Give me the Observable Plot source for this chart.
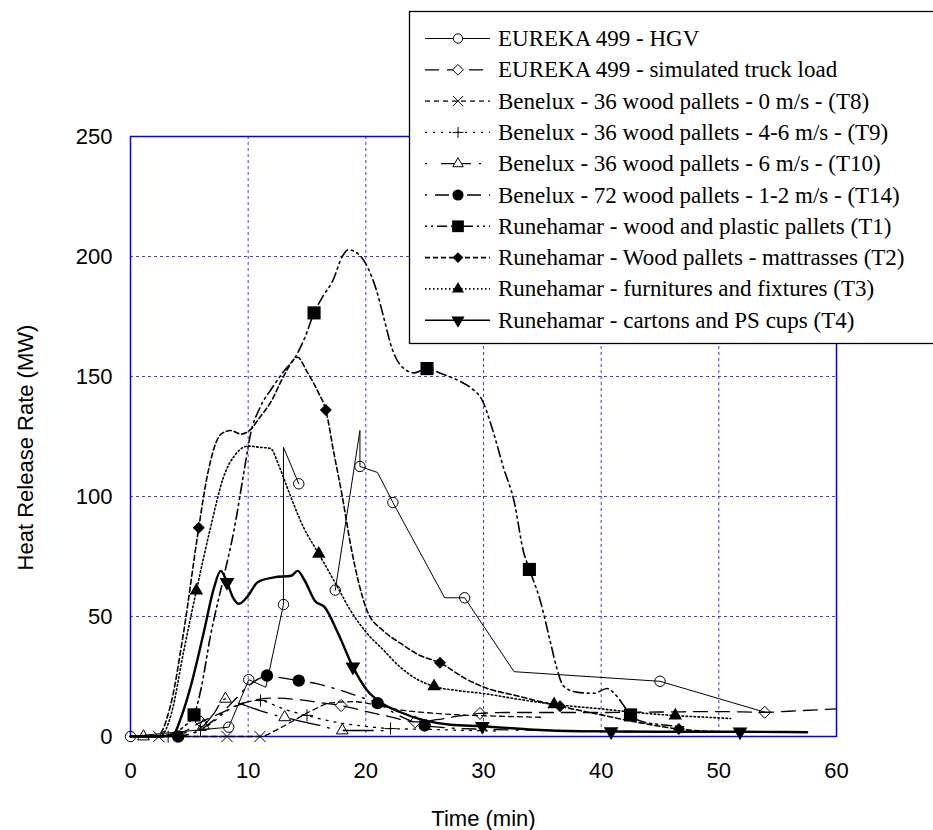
<!DOCTYPE html>
<html><head><meta charset="utf-8">
<script src="https://cdn.jsdelivr.net/npm/d3@7"></script>
<script src="https://cdn.jsdelivr.net/npm/@observablehq/plot@0.6"></script>
<style>body{margin:0;background:#fff;} #chart svg{display:block;}</style>
</head><body><div id="chart"></div>
<script>
// ---------- axis ticks & labels ----------
const xTicks = [0, 10, 20, 30, 40, 50, 60];
const yTicks = [0, 50, 100, 150, 200, 250];
const xTitle = "Time (min)";
const yTitle = "Heat Release Rate (MW)";
const legendLabels = [
  "EUREKA 499 - HGV",
  "EUREKA 499 - simulated truck load",
  "Benelux - 36 wood pallets - 0 m/s - (T8)",
  "Benelux - 36 wood pallets - 4-6 m/s - (T9)",
  "Benelux - 36 wood pallets - 6 m/s - (T10)",
  "Benelux - 72 wood pallets - 1-2 m/s - (T14)",
  "Runehamar - wood and plastic pallets (T1)",
  "Runehamar - Wood pallets - mattrasses (T2)",
  "Runehamar - furnitures and fixtures (T3)",
  "Runehamar - cartons and PS cups (T4)"
];

// ---------- series data: [time (min), HRR (MW)] ----------
const hgvSegA = [[0,0],[8.35,3.9],[10.05,23.7],[11.5,20.5],[13,55],[13,120.5],[14.3,105.3]];
const hgvSegB = [[17.4,61],[19.5,127.5],[19.5,112.5],[21,110],[22.3,97.5],[26.7,57.8],[28.4,57.8],[32.6,27],[45,23],[54,10]];
const hgvMarks = [[0,0],[8.35,3.9],[10.05,23.7],[13,55],[14.3,105.3],[17.4,61],[19.5,112.5],[22.3,97.5],[28.4,57.8],[45,23]];

const simLine = [[2,0],[4,1],[6,6],[8,10.5],[10,14.5],[12,16],[14,15.5],[16,14.2],[17.9,12.9],[20,10.5],[22,8.3],[24.2,6.1],[26,7],[28,8.6],[29.7,9.6],[32,10],[36,10],[40,10],[45,10.2],[50,10.4],[53.9,10.1],[57,10.8],[60,11.5]];
const simMarks = [[6,6],[17.9,12.9],[24.2,6.1],[29.7,9.6],[53.9,10.1]];

const t8Line = [[0,0],[2.4,0],[5,0],[8.2,0],[11,0],[12.5,3],[14,7],[15.5,11],[17,14],[19,14.5],[21,13],[23,11],[25,10],[28,9],[31,8.5],[35,8]];
const t8Marks = [[2.4,0],[8.2,0],[11,0]];

const t9Line = [[0,0],[3.2,0],[5,1],[5.95,2.5],[7,6],[8,10],[9,13],[10,14.5],[11.05,15],[12,13.5],[13,11.5],[14,10],[15,8.8],[16,7.5],[18,5.5],[20,4.2],[22.1,3.3],[25,3],[28,2.6],[31,2.3]];
const t9Marks = [[3.2,0],[5.95,2.5],[11.05,15],[15,8.8],[22.1,3.3]];

const t10Line = [[0,0],[1.1,0],[3,0.5],[5,2],[6.2,4.5],[7,9],[8.07,15.7],[9,14.2],[10,12.5],[11,10.8],[12,9.3],[13.1,8],[14.5,6.3],[16.1,4.6],[18,2.5],[20,2.5],[22.5,2.4]];
const t10Marks = [[1.1,0],[6.2,4.5],[8.07,15.7],[13.1,8],[18,2.5]];

const t14Line = [[0,0],[4.05,0],[5,1],[6,3],[7,6.5],[8,11],[9,16],[10,21],[11,24.3],[11.6,25.4],[13,24.3],[14.3,23.3],[16,21.8],[18,19],[19.5,16.5],[21,13.9],[22,11],[23,8.3],[24,6.2],[25,4.6],[27,3.6],[30,3],[35,2.6],[40,2.2],[46,2]];
const t14Marks = [[4.05,0],[11.6,25.4],[14.3,23.3],[21,13.9],[25,4.6]];

const r1Line = [[0,0],[2.5,0],[3.5,1],[4.5,4],[5.4,9],[6,20],[6.8,42],[7.9,66],[8.8,86],[9.7,112],[10.2,126],[11,137],[12,145],[13,152],[14,158],[14.8,166],[15.6,176.5],[16.3,183],[17.2,190],[18,200],[18.5,202.8],[19.5,200.4],[20.2,195],[20.9,186],[21.5,175],[22.2,162],[22.9,155],[24.1,151.5],[25.2,153.3],[26.5,151],[28,148],[29,145],[29.9,140],[30.7,129],[31.7,112],[32.6,98],[33.4,77],[33.9,69.6],[34.8,57],[35.7,39],[36.2,29],[36.8,21],[37.9,18.5],[39.4,18],[40.5,20],[41.2,17.5],[41.9,13],[42.5,9],[43.6,6],[45,5],[47,4]];
const r1Marks = [[5.4,9],[15.6,176.5],[25.2,153.3],[33.9,69.6],[42.5,9]];

const r2Line = [[0,0],[2.2,0],[3.5,15],[4.5,43],[5.8,87],[6.5,108],[7.7,126],[8.5,127.5],[9.4,126],[10.1,127.5],[11,133],[12,140],[13,150],[14.2,158],[15,152],[16,143],[16.6,136],[17.25,119],[18,100],[18.7,80],[19.4,64],[20.1,52.5],[21.5,44],[22.9,39],[24.5,34],[26.3,30.7],[28.5,24],[30,20.6],[32.8,17],[36.5,12.6],[40,9],[43,6],[46.6,3.1],[50,2]];
const r2Marks = [[5.8,87],[16.6,136],[26.3,30.7],[36.5,12.6],[46.6,3.1]];

const r3Line = [[0,0],[2.5,0],[3.5,10],[4.5,35],[5.6,60.8],[6.8,87],[7.9,108],[9,118],[10,121],[11,120.5],[11.9,120],[12.6,113],[13.3,104],[14.7,87.2],[16,76.1],[17.6,62.2],[18.7,52.5],[20.1,43],[21.5,36],[22.9,29],[24.3,24],[25.8,20.9],[28,19],[30,17.9],[33,15.5],[36,13.4],[40,11.5],[43,10],[46.3,8.7],[49,8],[51,7.5]];
const r3Marks = [[5.6,60.8],[16,76.1],[25.8,20.9],[36,13.4],[46.3,8.7]];

const r4Line = [[0,0],[2.5,0],[3.66,1],[4.3,8],[5.1,20.6],[6.2,42.8],[7.1,62],[7.66,69],[8.2,64.3],[8.7,58],[9.23,55.3],[10,58.7],[10.8,64.3],[12.2,66.3],[13.66,67],[14.2,69],[14.8,65],[15.66,56.6],[16.5,53.9],[17.66,42.8],[18.9,29],[20.1,19.3],[21.2,14.4],[22.9,10.2],[24.9,6.8],[27.2,4.9],[29.9,4.3],[34.3,2.8],[38.2,2.2],[40.85,2.1],[45,2],[51.8,2],[57.5,1.8]];
const r4Marks = [[8.2,64.3],[18.9,29],[29.9,4.3],[40.85,2.1],[51.8,2]];

// ---------- styles ----------
const symbolTriangleDown = {
  draw(context, size) {
    const y = -Math.sqrt(size / (Math.sqrt(3) * 3));
    context.moveTo(0, -y * 2);
    context.lineTo(-Math.sqrt(3) * y, y);
    context.lineTo(Math.sqrt(3) * y, y);
    context.closePath();
  }
};

const series = [
  {lines: [hgvSegA, hgvSegB], marks: hgvMarks, dash: null, width: 1, curve: "linear", symbol: d3.symbolCircle, r: 5.2, filled: false},
  {lines: [simLine], marks: simMarks, dash: "14,8", width: 1.3, curve: "monotone-x", symbol: d3.symbolDiamond2, r: 5.4, filled: false},
  {lines: [t8Line], marks: t8Marks, dash: "5,4", width: 1.3, curve: "monotone-x", symbol: d3.symbolTimes, r: 5.2, filled: false},
  {lines: [t9Line], marks: t9Marks, dash: "2,6", width: 1.3, curve: "monotone-x", symbol: d3.symbolPlus, r: 4, filled: false},
  {lines: [t10Line], marks: t10Marks, dash: "2,14,30,8", width: 1.3, curve: "monotone-x", symbol: d3.symbolTriangle2, r: 5.6, filled: false},
  {lines: [t14Line], marks: t14Marks, dash: "2,8,14,8", width: 1.4, curve: "monotone-x", symbol: d3.symbolCircle, r: 6.2, filled: true},
  {lines: [r1Line], marks: r1Marks, dash: "2,4,2,4,10,4", width: 1.6, curve: "monotone-x", symbol: d3.symbolSquare, r: 7.4, filled: true},
  {lines: [r2Line], marks: r2Marks, dash: "5,3", width: 1.6, curve: "monotone-x", symbol: d3.symbolDiamond2, r: 5.4, filled: true},
  {lines: [r3Line], marks: r3Marks, dash: "1.5,2.5", width: 1.6, curve: "monotone-x", symbol: d3.symbolTriangle, r: 5, filled: true},
  {lines: [r4Line], marks: r4Marks, dash: null, width: 2.4, curve: "monotone-x", symbol: symbolTriangleDown, r: 5.5, filled: true}
];

const X = d => d[0], Y = d => d[1];
const dataMarks = [];
series.forEach(s => {
  s.lines.forEach(L => dataMarks.push(Plot.line(L, {x: X, y: Y, stroke: "black", strokeWidth: s.width, strokeDasharray: s.dash, curve: s.curve})));
});
series.forEach(s => {
  dataMarks.push(Plot.dot(s.marks, {x: X, y: Y, symbol: s.symbol, r: s.r,
    fill: s.filled ? "black" : "none", stroke: s.filled ? "none" : "black", strokeWidth: 1}));
});

const chart = Plot.plot({
  width: 933, height: 830,
  marginLeft: 130, marginRight: 97, marginTop: 136, marginBottom: 94,
  style: {fontFamily: "'Liberation Sans', Arial, sans-serif", fontSize: "22px", background: "white", color: "black", overflow: "visible"},
  x: {domain: [0, 60]},
  y: {domain: [0, 250]},
  marks: [
    Plot.gridX(xTicks.slice(1, -1), {stroke: "#1a1aff", strokeOpacity: 0.85, strokeDasharray: "3,3", strokeWidth: 1}),
    Plot.gridY(yTicks.slice(1, -1), {stroke: "#1a1aff", strokeOpacity: 0.85, strokeDasharray: "3,3", strokeWidth: 1}),
    Plot.frame({stroke: "#0000ff", strokeWidth: 1.5}),
    Plot.axisX(xTicks, {tickSize: 0, tickPadding: 26, label: null}),
    Plot.axisY(yTicks, {tickSize: 0, tickPadding: 18, label: null}),
    Plot.text([xTitle], {frameAnchor: "bottom", dy: 82, fontSize: 22, textAnchor: "middle", lineAnchor: "middle"}),
    Plot.text([yTitle], {frameAnchor: "left", dx: -105, dy: 11, rotate: -90, fontSize: 22, textAnchor: "middle", lineAnchor: "middle"}),
    ...dataMarks
  ]
});

// ---------- legend (drawn on top, inside the SVG) ----------
const svg = d3.select(chart);
const lg = svg.append("g").attr("text-anchor", "start");
lg.append("rect").attr("x", 409.5).attr("y", 11.5).attr("width", 560).attr("height", 332)
  .attr("fill", "white").attr("stroke", "black").attr("stroke-width", 1.3);
series.forEach((s, i) => {
  const y = 38.5 + i * 31.3;
  lg.append("line").attr("x1", 425).attr("x2", 490).attr("y1", y).attr("y2", y)
    .attr("stroke", "black").attr("stroke-width", Math.min(s.width, 1.6))
    .attr("stroke-dasharray", s.dash);
  lg.append("path").attr("transform", `translate(458,${y})`)
    .attr("d", d3.symbol(s.symbol, Math.PI * s.r * s.r * 0.8)())
    .attr("fill", s.filled ? "black" : "white").attr("stroke", s.filled ? "none" : "black").attr("stroke-width", 1);
  lg.append("text").attr("x", 498).attr("y", y).attr("dy", "0.33em")
    .attr("text-anchor", "start")
    .attr("font-family", "'Liberation Serif', 'Times New Roman', serif").attr("font-size", 23)
    .attr("fill", "black").text(legendLabels[i]);
});

document.getElementById("chart").appendChild(chart);
</script>
</body></html>
